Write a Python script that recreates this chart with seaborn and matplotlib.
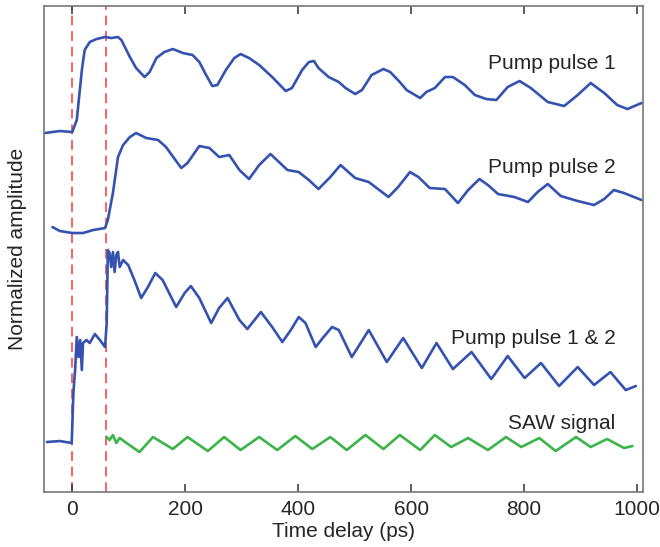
import matplotlib
matplotlib.use("Agg")
import matplotlib.pyplot as plt
import seaborn as sns
import pandas as pd

sns.set_style("ticks")
plt.rcParams["font.family"] = ["Liberation Sans", "DejaVu Sans"]

# time delay (ps) and normalized amplitude (arb. units)
pp1_t = [-48, -22, 0, 8, 17, 22, 31, 43, 58, 69, 81, 87, 102, 113, 128, 137, 149, 163,
         178, 196, 213, 225, 237, 248, 257, 272, 287, 298, 313, 331, 354, 378, 389, 407,
         419, 428, 436, 454, 472, 484, 501, 513, 530, 551, 563, 580, 592, 616, 627, 642,
         660, 674, 695, 713, 733, 751, 771, 792, 812, 842, 871, 895, 918, 942, 965, 983,
         1008]
pp1_a = [3.59, 3.61, 3.60, 3.72, 4.22, 4.42, 4.50, 4.53, 4.55, 4.54, 4.55, 4.52, 4.35,
         4.24, 4.15, 4.20, 4.34, 4.40, 4.43, 4.39, 4.37, 4.30, 4.17, 4.06, 4.07, 4.22,
         4.34, 4.38, 4.34, 4.27, 4.15, 4.01, 4.04, 4.22, 4.30, 4.31, 4.24, 4.15, 4.10,
         4.04, 3.98, 4.02, 4.17, 4.23, 4.20, 4.10, 4.02, 3.94, 4.00, 4.04, 4.15, 4.15,
         4.07, 3.97, 3.93, 3.92, 4.05, 4.11, 4.04, 3.90, 3.86, 3.97, 4.09, 3.99, 3.87,
         3.83, 3.89]

pp2_t = [-35, -22, 0, 19, 37, 58, 63, 72, 81, 90, 102, 113, 131, 152, 166, 193, 204, 225,
         243, 260, 278, 296, 313, 331, 351, 381, 401, 419, 436, 457, 475, 501, 525, 560,
         577, 598, 613, 633, 660, 683, 701, 721, 736, 754, 783, 807, 824, 842, 865, 895,
         924, 942, 959, 977, 1008]
pp2_a = [2.65, 2.61, 2.59, 2.59, 2.62, 2.64, 2.72, 2.99, 3.35, 3.47, 3.55, 3.59, 3.54,
         3.52, 3.45, 3.24, 3.29, 3.46, 3.44, 3.35, 3.37, 3.22, 3.13, 3.27, 3.38, 3.22,
         3.20, 3.12, 3.03, 3.15, 3.27, 3.14, 3.10, 2.95, 3.05, 3.20, 3.15, 3.04, 3.03,
         2.89, 3.02, 3.13, 3.07, 2.98, 2.95, 2.90, 3.00, 3.08, 2.96, 2.91, 2.87, 2.93,
         3.02, 2.99, 2.92]

both_t = [-45, -22, -1, 0, 2, 5, 8, 11, 14, 17, 19, 25, 31, 40, 49, 58, 61, 63, 66, 69,
          72, 75, 78, 81, 84, 90, 99, 110, 122, 134, 147, 160, 184, 199, 210, 225, 246,
          260, 275, 296, 310, 334, 354, 372, 387, 401, 413, 431, 445, 460, 472, 495, 525,
          557, 586, 619, 645, 674, 707, 742, 771, 801, 830, 862, 895, 924, 953, 980, 998]
both_a = [0.50, 0.51, 0.49, 0.65, 0.99, 1.22, 1.55, 1.35, 1.52, 1.22, 1.49, 1.52, 1.49,
          1.58, 1.52, 1.45, 1.69, 2.42, 2.39, 2.25, 2.40, 2.20, 2.37, 2.40, 2.25, 2.32,
          2.27, 2.12, 1.94, 2.05, 2.19, 2.12, 1.85, 1.99, 2.06, 1.94, 1.69, 1.84, 1.94,
          1.72, 1.63, 1.80, 1.65, 1.50, 1.62, 1.75, 1.69, 1.45, 1.55, 1.65, 1.62, 1.35,
          1.62, 1.30, 1.54, 1.24, 1.49, 1.23, 1.40, 1.13, 1.36, 1.14, 1.29, 1.06, 1.25,
          1.07, 1.20, 1.02, 1.06]

saw_t = [61, 66, 72, 78, 84, 96, 119, 143, 178, 204, 240, 269, 298, 331, 363, 395, 425,
         457, 486, 519, 551, 580, 616, 642, 671, 701, 736, 768, 795, 827, 856, 892, 918,
         947, 977, 992]
saw_a = [0.55, 0.52, 0.57, 0.49, 0.54, 0.49, 0.40, 0.55, 0.43, 0.55, 0.41, 0.55, 0.42,
         0.55, 0.42, 0.56, 0.43, 0.55, 0.42, 0.57, 0.43, 0.57, 0.42, 0.57, 0.45, 0.54,
         0.42, 0.55, 0.45, 0.54, 0.41, 0.55, 0.45, 0.53, 0.44, 0.46]

pulse_times = [0, 60]

labels = ["Pump pulse 1", "Pump pulse 2", "Pump pulse 1 & 2", "SAW signal"]
label_y = [4.29, 3.25, 1.54, 0.69]

BLUE = "#3552b0"
GREEN = "#3cb44a"
RED = "#ff6060"


def main():
    fig = plt.figure(figsize=(6.6, 5.47), dpi=100)
    ax = fig.add_axes([0.0667, 0.1005, 0.907, 0.8885])

    for t, a, c in [(pp1_t, pp1_a, BLUE), (pp2_t, pp2_a, BLUE),
                    (both_t, both_a, BLUE), (saw_t, saw_a, GREEN)]:
        df = pd.DataFrame({"t": t, "a": a})
        sns.lineplot(data=df, x="t", y="a", color=c, lw=1.9, estimator=None,
                     sort=False, ax=ax, solid_joinstyle="round")

    for p in pulse_times:
        ax.axvline(p, color=RED, lw=1.4, ls=(0, (5, 3)), zorder=0)

    for txt, y in zip(labels, label_y):
        ax.text(962, y, txt, ha="right", va="center", fontsize=15)

    ax.set_xlim(-50, 1010)
    ax.set_ylim(0, 4.86)
    ax.set_xticks([0, 200, 400, 600, 800, 1000])
    ax.set_yticks([])
    ax.tick_params(axis="x", which="major", direction="in", length=6, width=1.1,
                   top=True, bottom=True, labelsize=15, pad=6, color="#333333")
    ax.set_xlabel("Time delay (ps)", fontsize=15, labelpad=2)
    ax.set_ylabel("Normalized amplitude", fontsize=15, labelpad=12)
    for s in ax.spines.values():
        s.set_visible(True)
        s.set_color("#777777")
        s.set_linewidth(1.2)

    fig.savefig("out.png", dpi=100)
    plt.close(fig)


if __name__ == "__main__":
    main()
